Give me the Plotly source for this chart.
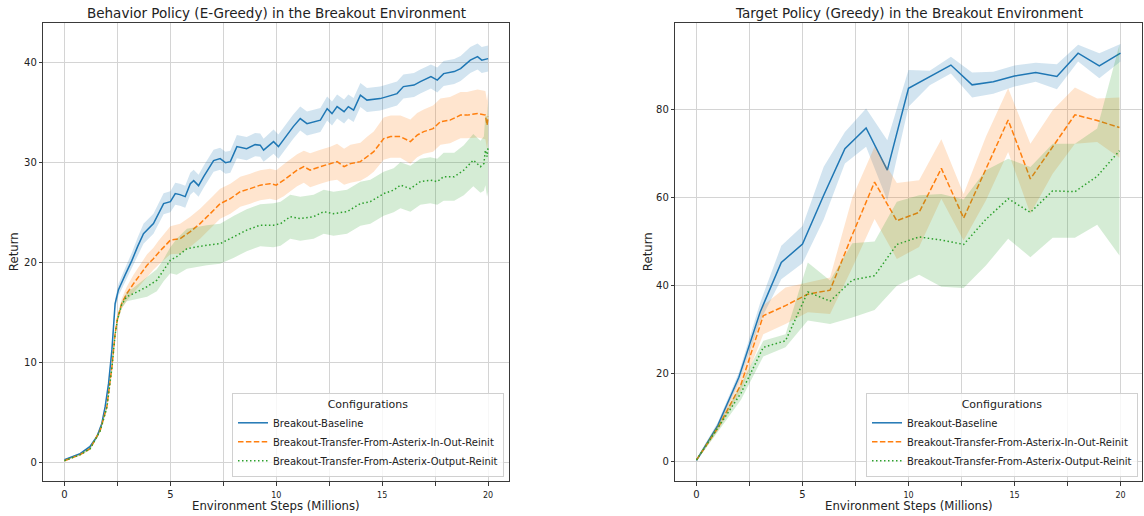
import plotly.graph_objects as go

# ---------------- Left panel: Behavior policy (E-greedy) ----------------
beh_base_x = [0, 0.27, 0.74, 1.2, 1.53, 1.76, 1.92, 2.08, 2.24, 2.39, 2.55, 2.87, 3.18, 3.45, 3.73, 4.2,
              4.68, 5.0, 5.23, 5.45, 5.7, 5.94, 6.1, 6.33, 6.57, 7.04, 7.35, 7.6, 7.83, 8.14, 8.6, 9.0,
              9.24, 9.4, 9.87, 10.1, 10.5, 10.8, 11.13, 11.45, 12.08, 12.4, 12.63, 12.87, 13.2, 13.4,
              13.65, 13.97, 14.28, 14.9, 15.23, 15.7, 16.0, 16.5, 16.8, 17.3, 17.6, 17.9, 18.4, 18.7,
              19.16, 19.5, 19.7, 20.0]
beh_base_y = [0.3, 0.5, 0.9, 1.6, 2.6, 3.9, 5.6, 7.9, 11.3, 15.9, 17.3, 18.8, 20.2, 21.6, 22.9, 23.9,
              25.9, 26.1, 26.9, 26.8, 26.6, 27.9, 28.2, 27.7, 28.6, 30.2, 30.4, 30.0, 30.1, 31.6, 31.4, 31.8,
              31.75, 31.25, 32.1, 31.6, 32.75, 33.6, 34.4, 33.9, 34.25, 35.4, 34.9, 35.6, 35.1, 35.6,
              35.25, 36.75, 36.25, 36.4, 36.6, 36.9, 37.6, 37.75, 38.1, 38.6, 38.25, 38.9, 39.1, 39.4,
              40.25, 40.6, 40.25, 40.4]
beh_base_err = [0.05, 0.1, 0.1, 0.15, 0.2, 0.25, 0.3, 0.35, 0.4, 0.5, 0.6, 0.7, 0.8, 0.9, 1.0,
                1.0, 1.05, 1.05, 1.1, 1.1, 1.1, 1.1, 1.1, 1.1, 1.1, 1.1, 1.1, 1.1, 1.1, 1.15,
                1.15, 1.15, 1.15, 1.15, 1.2, 1.2, 1.2, 1.2, 1.2, 1.2, 1.2, 1.2, 1.2, 1.2, 1.2,
                1.2, 1.2, 1.2, 1.2, 1.2, 1.2, 1.2, 1.2, 1.2, 1.2, 1.2, 1.25, 1.25, 1.25, 1.25,
                1.3, 1.3, 1.3, 1.3]

beh_inout_x = [0, 0.74, 1.21, 1.69, 2.0, 2.24, 2.39, 2.5, 2.7, 2.94, 3.26, 3.57, 3.9, 4.2, 4.44,
               5.0, 5.46, 5.94, 6.4, 6.88, 7.35, 7.83, 8.3, 8.77, 9.24, 9.7, 10.0, 10.35, 10.66, 10.98,
               11.3, 11.6, 12.08, 12.55, 12.87, 13.2, 13.5, 13.97, 14.3, 14.6, 15.07, 15.4, 15.86,
               16.33, 16.65, 16.96, 17.4, 17.75, 18.2, 18.7, 19.0, 19.5, 19.87, 19.95, 20.0]
beh_inout_y = [0.2, 0.8, 1.4, 3.25, 5.6, 9.6, 12.9, 14.4, 15.9, 16.9, 17.9, 18.75, 19.75, 20.4, 21.0,
               22.25, 22.4, 23.1, 23.9, 24.9, 25.9, 26.4, 27.1, 27.4, 27.75, 27.9, 27.75, 28.25, 28.75,
               29.25, 29.6, 29.25, 29.6, 29.9, 30.1, 29.6, 29.9, 30.1, 30.6, 31.1, 32.4, 32.6, 32.6,
               32.1, 32.75, 33.1, 33.4, 34.1, 34.25, 34.75, 34.75, 34.9, 34.75, 33.75, 34.6]
beh_inout_err = [0.05, 0.1, 0.1, 0.15, 0.2, 0.25, 0.3, 0.35, 0.5, 0.7, 0.9, 1.0, 1.1, 1.1, 1.2,
                 1.4, 1.5, 1.5, 1.5, 1.5, 1.5, 1.5, 1.5, 1.5, 1.5, 1.5, 1.5, 1.6, 1.6, 1.6,
                 1.6, 1.7, 1.7, 1.7, 1.8, 1.8, 1.9, 1.9, 2.0, 2.0, 2.1, 2.1, 2.1, 2.2, 2.2,
                 2.2, 2.3, 2.3, 2.3, 2.3, 2.3, 2.4, 2.4, 2.4, 2.4]

beh_out_x = [0, 0.74, 1.21, 1.69, 2.0, 2.24, 2.39, 2.5, 2.7, 2.94, 3.26, 3.9, 4.36, 4.68, 5.0,
             5.3, 5.78, 6.72, 7.35, 8.0, 8.6, 9.24, 9.87, 10.2, 10.66, 11.13, 11.76, 12.24, 12.7,
             13.34, 13.97, 14.44, 15.07, 15.54, 15.86, 16.33, 16.8, 17.27, 17.6, 17.9, 18.4, 18.85,
             19.3, 19.64, 19.8, 19.87, 19.95, 20.0]
beh_out_y = [0.2, 0.8, 1.4, 3.2, 5.5, 9.5, 12.8, 14.3, 15.8, 16.6, 16.9, 17.6, 18.25, 19.25, 20.25,
             20.6, 21.4, 21.75, 21.9, 22.6, 23.25, 23.75, 23.75, 23.9, 24.6, 24.4, 24.6, 25.1, 24.9,
             25.1, 25.9, 26.1, 26.9, 27.25, 27.75, 27.4, 28.1, 28.25, 28.1, 28.6, 28.6, 29.25,
             30.25, 29.6, 29.9, 31.25, 30.6, 31.6]
beh_out_err = [0.05, 0.05, 0.1, 0.15, 0.2, 0.25, 0.3, 0.3, 0.35, 0.45, 0.6, 1.0, 1.1, 1.1, 1.3,
               1.8, 2.0, 2.0, 2.0, 2.1, 2.1, 2.1, 2.2, 2.2, 2.2, 2.2, 2.2, 2.2, 2.2, 2.2,
               2.2, 2.2, 2.2, 2.2, 2.3, 2.3, 2.3, 2.3, 2.3, 2.4, 2.4, 2.5, 2.6, 2.6, 2.7,
               3.5, 4.0, 4.5]

# ---------------- Right panel: Target policy (greedy) ----------------
tgt_base_x = [0, 1, 2, 3, 4, 5, 6, 7, 8, 9, 10, 11, 12, 13, 14, 15, 16, 17, 18, 19, 20]
tgt_base_y = [0.2, 8.1, 19.1, 33.9, 45.2, 49.4, 60.5, 71.1, 75.8, 66.2, 84.8, 87.5, 90.1, 85.6, 86.3,
              87.6, 88.4, 87.5, 92.8, 89.9, 92.8]
tgt_base_lo = [-0.2, 7.4, 18.0, 31.8, 41.4, 45.0, 55.0, 67.7, 71.5, 59.3, 80.6, 85.5, 88.2, 82.7, 83.6,
               85.2, 86.3, 84.6, 90.9, 87.1, 90.9]
tgt_base_hi = [0.6, 8.8, 20.2, 36.0, 49.0, 53.5, 67.0, 74.9, 80.2, 73.0, 89.0, 88.8, 92.0, 88.4, 88.6,
               90.0, 90.6, 90.3, 94.7, 92.8, 94.9]

tgt_tr_x = [0, 1.05, 2.1, 3.15, 4.2, 5.25, 6.3, 7.35, 8.4, 9.45, 10.5, 11.55, 12.6, 13.65, 14.7,
            15.75, 16.8, 17.85, 18.9, 19.95]
tgt_inout_y = [0.3, 7.9, 17.5, 33.1, 35.4, 38.0, 38.9, 51.5, 63.5, 54.7, 56.6, 66.6, 55.3, 66.5, 77.6,
               64.2, 71.5, 78.8, 77.5, 75.9]
tgt_inout_lo = [0.0, 7.2, 16.0, 28.9, 31.2, 33.9, 33.5, 44.0, 55.1, 46.0, 48.7, 59.7, 50.2, 59.3, 70.3,
                56.3, 65.4, 72.2, 72.6, 69.0]
tgt_inout_hi = [0.6, 8.6, 19.5, 35.4, 39.5, 40.7, 41.8, 60.0, 71.5, 63.3, 63.9, 73.2, 60.8, 73.8, 84.8,
                72.2, 79.8, 85.0, 82.5, 82.7]
tgt_out_y = [0.3, 7.8, 15.5, 25.9, 27.4, 38.5, 36.4, 41.2, 42.2, 49.3, 51.0, 50.3, 49.3, 55.0, 59.7,
             56.6, 61.5, 61.3, 64.8, 70.6]
tgt_out_lo = [0.0, 7.0, 14.0, 23.8, 25.9, 32.0, 31.2, 32.7, 34.4, 39.9, 42.4, 39.7, 39.4, 44.5, 50.6,
              46.4, 50.8, 50.8, 53.8, 46.8]
tgt_out_hi = [0.6, 8.6, 17.5, 27.4, 28.9, 45.2, 41.1, 49.6, 50.0, 59.0, 60.5, 60.8, 59.5, 66.2, 68.8,
              66.9, 72.2, 72.2, 75.7, 94.7]

names = ["Breakout-Baseline",
         "Breakout-Transfer-From-Asterix-In-Out-Reinit",
         "Breakout-Transfer-From-Asterix-Output-Reinit"]
colors = ["#1f77b4", "#ff7f0e", "#2ca02c"]
fills = ["rgba(31,119,180,0.2)", "rgba(255,127,14,0.2)", "rgba(44,160,44,0.2)"]
dashes = ["solid", "5.5px,2.4px", "1.5px,2.5px"]

x_tickvals = [0, 2.5, 5, 7.5, 10, 12.5, 15, 17.5, 20]
x_ticktext = ["0", "", "5", "",
              "<span style='font-size:8px'>10</span>", "",
              "<span style='font-size:8px'>15</span>", "",
              "<span style='font-size:8px'>20</span>"]

FONT = "DejaVu Sans"
fig = go.Figure()


def add_series(x, y, lo, hi, i, xa, ya, legend):
    fig.add_trace(go.Scatter(x=x, y=hi, mode="lines", line=dict(width=0), hoverinfo="skip",
                             showlegend=False, xaxis=xa, yaxis=ya))
    fig.add_trace(go.Scatter(x=x, y=lo, mode="lines", line=dict(width=0), fill="tonexty",
                             fillcolor=fills[i], hoverinfo="skip", showlegend=False,
                             xaxis=xa, yaxis=ya))
    fig.add_trace(go.Scatter(x=x, y=y, mode="lines", name=names[i],
                             line=dict(color=colors[i], width=1.5, dash=dashes[i]),
                             xaxis=xa, yaxis=ya, legend=legend))


left = [(beh_base_x, beh_base_y, beh_base_err),
        (beh_inout_x, beh_inout_y, beh_inout_err),
        (beh_out_x, beh_out_y, beh_out_err)]
for i, (x, y, e) in enumerate(left):
    lo = [a - b for a, b in zip(y, e)]
    hi = [a + b for a, b in zip(y, e)]
    add_series(x, y, lo, hi, i, "x", "y", "legend")

right = [(tgt_base_x, tgt_base_y, tgt_base_lo, tgt_base_hi),
         (tgt_tr_x, tgt_inout_y, tgt_inout_lo, tgt_inout_hi),
         (tgt_tr_x, tgt_out_y, tgt_out_lo, tgt_out_hi)]
for i, (x, y, lo, hi) in enumerate(right):
    add_series(x, y, lo, hi, i, "x2", "y2", "legend2")

W, H = 1144, 516
L1, R1 = 43.3, 509.3
L2, R2 = 675.3, 1141.7
T, B = 23.3, 481.0

axis_common = dict(showline=True, linecolor="#3a3a3a", linewidth=1, mirror=True,
                   showgrid=True, gridcolor="#d4d4d4", gridwidth=1, zeroline=False,
                   ticks="outside", ticklen=3.5, tickwidth=1, tickcolor="#3a3a3a",
                   tickfont=dict(family=FONT, size=10, color="#222222"))

fig.update_layout(
    width=W, height=H, margin=dict(l=0, r=0, t=0, b=0),
    plot_bgcolor="white", paper_bgcolor="white",
    font=dict(family=FONT, color="#222222"),
    xaxis=dict(domain=[L1 / W, R1 / W], range=[-1, 21], tickmode="array",
               tickvals=x_tickvals, ticktext=x_ticktext, anchor="y", **axis_common),
    yaxis=dict(domain=[1 - B / H, 1 - T / H], range=[-1.83, 43.93], tickmode="array",
               tickvals=[0, 10, 20, 30, 40], anchor="x", **axis_common),
    xaxis2=dict(domain=[L2 / W, R2 / W], range=[-1, 21], tickmode="array",
                tickvals=x_tickvals, ticktext=x_ticktext, anchor="y2", **axis_common),
    yaxis2=dict(domain=[1 - B / H, 1 - T / H], range=[-4.5, 99.6], tickmode="array",
                tickvals=[0, 20, 40, 60, 80], anchor="x2", **axis_common),
)

legend_common = dict(xanchor="right", yanchor="bottom", bgcolor="rgba(255,255,255,0.8)",
                     bordercolor="#d0d0d0", borderwidth=1, itemwidth=30, tracegroupgap=0,
                     traceorder="normal",
                     font=dict(family=FONT, size=10, color="#222222"),
                     title=dict(text="Configurations", side="top center",
                                font=dict(family=FONT, size=11, color="#222222")))
fig.update_layout(legend=dict(x=504 / W, y=1 - 477 / H, **legend_common),
                  legend2=dict(x=1138 / W, y=1 - 477 / H, **legend_common))

ann = []
for (l, r, title) in [(L1, R1, "Behavior Policy (E-Greedy) in the Breakout Environment"),
                      (L2, R2, "Target Policy (Greedy) in the Breakout Environment")]:
    cx = (l + r) / 2 / W
    ann.append(dict(text=title, x=cx, y=1 - 13 / H, xref="paper", yref="paper",
                    xanchor="center", yanchor="middle", showarrow=False,
                    font=dict(family=FONT, size=13.5, color="#222222")))
    ann.append(dict(text="Environment Steps (Millions)", x=cx, y=1 - 506 / H, xref="paper",
                    yref="paper", xanchor="center", yanchor="middle", showarrow=False,
                    font=dict(family=FONT, size=11.7, color="#222222")))
ann.append(dict(text="Return", x=14 / W, y=1 - (T + B) / 2 / H, xref="paper", yref="paper",
                xanchor="center", yanchor="middle", textangle=-90, showarrow=False,
                font=dict(family=FONT, size=11.7, color="#222222")))
ann.append(dict(text="Return", x=648 / W, y=1 - (T + B) / 2 / H, xref="paper", yref="paper",
                xanchor="center", yanchor="middle", textangle=-90, showarrow=False,
                font=dict(family=FONT, size=11.7, color="#222222")))
fig.update_layout(annotations=ann)

fig.write_html("out.html")
